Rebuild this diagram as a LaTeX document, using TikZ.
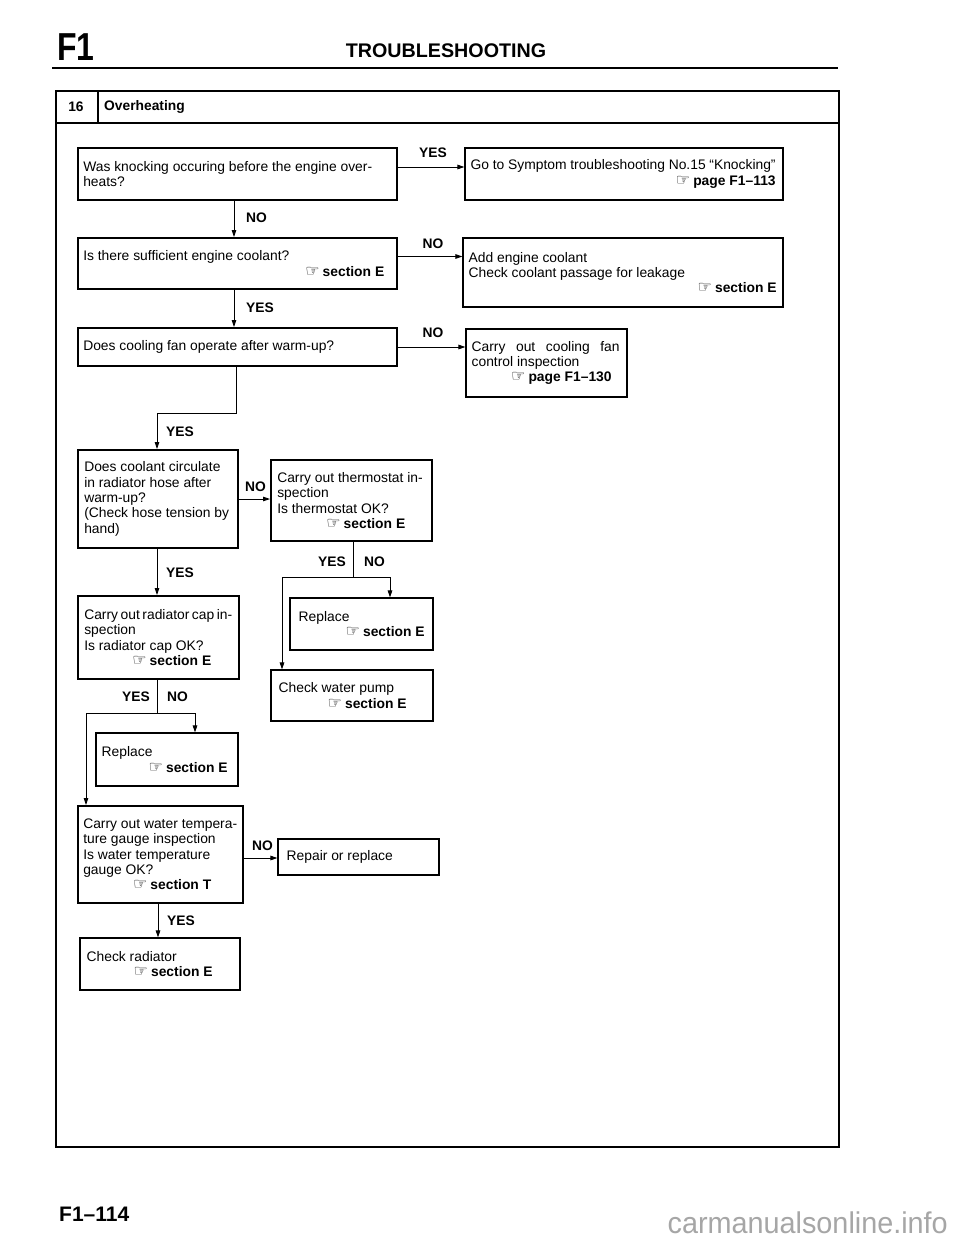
\documentclass[tikz,border=0pt]{standalone}
\usepackage{fontspec}
\setmainfont{Liberation Sans}
\newfontfamily\dejavu{DejaVu Sans}
\usetikzlibrary{arrows.meta,fit}
\newcommand\hnd{{\dejavu\bfseries\fontsize{16}{16}\selectfont ☞}}
\newcommand\sref[2]{\makebox[#1][r]{\hnd\hspace{3pt}\textbf{#2}}}
\newcommand\mkbox[6]{\coordinate (#1-nw) at (#3,#4); \coordinate (#1-se) at (#5,#6); \node[#2, fit=(#1-nw)(#1-se)] (#1) {};}
\begin{document}
\begin{tikzpicture}[x=1pt,y=-1pt,
  qbox/.style={draw, line width=1.9pt, inner sep=0pt},
  rbox/.style={draw, line width=1.1pt, inner sep=0pt},
  txt/.style={anchor=west, align=left, inner sep=0pt, font=\fontsize{13.85}{15.3}\selectfont},
  lbl/.style={inner sep=0pt, font=\fontsize{13.8}{15}\selectfont\bfseries},
  conn/.style={line width=0.9pt},
  arr/.style={conn, -{Triangle[length=7pt,width=4.5pt]}},
]
\useasboundingbox (0,0) rectangle (960,1242);
\fill[white] (0,0) rectangle (960,1242);

% page header and frame
\node[anchor=base west, inner sep=0pt, font=\fontsize{39}{39}\selectfont\bfseries, xscale=0.82] (f1) at (57,60) {F1};
\node[anchor=base, inner sep=0pt, font=\fontsize{19.7}{20}\selectfont\bfseries] (title) at (446,57) {TROUBLESHOOTING};
\draw[line width=1.8pt] (52,68) -- (838,68);
\draw[line width=1.5pt] (56,91) rectangle (839,1147);
\draw[line width=1.5pt] (56,123) -- (839,123);
\draw[line width=1.5pt] (98,91) -- (98,123);
\node[lbl] (num) at (76,107) {16};
\node[lbl, anchor=west] (hdr) at (104,107) {Overheating};
\node[anchor=base west, inner sep=0pt, font=\fontsize{21}{21}\selectfont\bfseries] (pg) at (59,1221) {F1–114};
\node[anchor=base east, inner sep=0pt, text=black!35, font=\fontsize{30}{30}\selectfont, xscale=0.96] (wm) at (948,1233) {carmanualsonline.info};

% boxes
\mkbox{b1}{qbox}{78}{148}{397}{200}
\mkbox{g1}{rbox}{465}{148}{783}{200}
\mkbox{b2}{qbox}{78}{238}{397}{289}
\mkbox{a2}{rbox}{463}{238}{783}{307}
\mkbox{b3}{qbox}{78}{328}{397}{366}
\mkbox{f3}{rbox}{466}{329}{627}{397}
\mkbox{b4}{qbox}{78}{450}{238}{548}
\mkbox{t5}{qbox}{271}{460}{432}{541}
\mkbox{r5}{rbox}{290}{598}{433}{650}
\mkbox{w5}{rbox}{271}{670}{433}{721}
\mkbox{b6}{qbox}{78}{596}{239}{679}
\mkbox{r6}{rbox}{96}{733}{238}{786}
\mkbox{b7}{qbox}{78}{806}{243}{903}
\mkbox{p7}{rbox}{278}{839}{439}{875}
\mkbox{b8}{rbox}{80}{938}{240}{990}

% texts
\node[txt] (b1t) at ([xshift=6pt]b1.west) {Was knocking occuring before the engine over-\\heats?};
\node[txt] (g1t) at ([xshift=6pt]g1.west) {\makebox[305pt][s]{Go to Symptom troubleshooting No.15 “Knocking”}\\\sref{305pt}{page F1–113}};
\node[txt] (b2t) at ([xshift=6pt]b2.west) {Is there sufficient engine coolant?\\\sref{301pt}{section E}};
\node[txt] (a2t) at ([xshift=6pt]a2.west) {Add engine coolant\\Check coolant passage for leakage\\\sref{308pt}{section E}};
\node[txt] (b3t) at ([xshift=6pt]b3.west) {Does cooling fan operate after warm-up?};
\node[txt] (f3t) at ([xshift=6pt]f3.west) {\makebox[148pt][s]{Carry out cooling fan}\\control inspection\\\sref{140pt}{page F1–130}};
\node[txt] (b4t) at ([xshift=7pt]b4.west) {Does coolant circulate\\in radiator hose after\\warm-up?\\(Check hose tension by\\hand)};
\node[txt] (t5t) at ([xshift=7pt]t5.west) {Carry out thermostat in-\\spection\\Is thermostat OK?\\\sref{128pt}{section E}};
\node[txt] (r5t) at ([xshift=9pt]r5.west) {Replace\\\sref{126pt}{section E}};
\node[txt] (w5t) at ([xshift=8pt]w5.west) {Check water pump\\\sref{128pt}{section E}};
\node[txt] (b6t) at ([xshift=7pt]b6.west) {\makebox[145pt][s]{Carry out radiator cap in-}\\spection\\Is radiator cap OK?\\\sref{127pt}{section E}};
\node[txt] (r6t) at ([xshift=6pt]r6.west) {Replace\\\sref{126pt}{section E}};
\node[txt] (b7t) at ([xshift=6pt]b7.west) {Carry out water tempera-\\ture gauge inspection\\Is water temperature\\gauge OK?\\\sref{128pt}{section T}};
\node[txt] (p7t) at ([xshift=9pt]p7.west) {Repair or replace};
\node[txt] (b8t) at ([xshift=7pt]b8.west) {Check radiator\\\sref{126pt}{section E}};

% connectors
\draw[arr] ([yshift=7pt]b1.east) -- ([yshift=7pt]b1.east -| g1.west);
\draw[arr] ([xshift=-3.5pt]b1.south) -- ([xshift=-3.5pt]b1.south |- b2.north);
\draw[arr] ([yshift=7pt]b2.east) -- ([yshift=7pt]b2.east -| a2.west);
\draw[arr] ([xshift=-3.5pt]b2.south) -- ([xshift=-3.5pt]b2.south |- b3.north);
\draw[arr] (b3.east) -- (b3.east -| f3.west);
\draw[arr] ([xshift=-1.5pt]b3.south) -- ++(0,46) -| ([xshift=-1pt]b4.north);
\draw[arr] (b4.east) -- (b4.east -| t5.west);
\draw[arr] ([xshift=-1pt]b4.south) -- ([xshift=-1pt]b4.south |- b6.north);
\draw[conn] ([xshift=1.5pt]t5.south) -- ++(0,35) coordinate (t5s);
\draw[arr] (t5s) -| ([xshift=28.5pt]r5.north);
\draw[arr] (t5s) -| ([xshift=-70pt]w5.north);
\draw[conn] ([xshift=-1.5pt]b6.south) -- ++(0,33) coordinate (b6s);
\draw[arr] (b6s) -| ([xshift=28pt]r6.north);
\draw[arr] (b6s) -| ([xshift=-74.5pt]b7.north);
\draw[arr] ([yshift=-3.5pt]b7.east) -- ([yshift=-3.5pt]b7.east -| p7.west);
\draw[arr] ([xshift=-2.5pt]b7.south) -- ([xshift=-2.5pt]b7.south |- b8.north);

% labels
\node[lbl] (l1) at (433,153) {YES};
\node[lbl, anchor=west] (l2) at (246,218) {NO};
\node[lbl] (l3) at (433,244) {NO};
\node[lbl, anchor=west] (l4) at (246,308) {YES};
\node[lbl] (l5) at (433,333) {NO};
\node[lbl, anchor=west] (l6) at (166,432) {YES};
\node[lbl, anchor=west] (l7) at (245,487) {NO};
\node[lbl, anchor=east] (l8) at (346,562) {YES};
\node[lbl, anchor=west] (l9) at (364,562) {NO};
\node[lbl, anchor=west] (l10) at (166,573) {YES};
\node[lbl, anchor=east] (l11) at (150,697) {YES};
\node[lbl, anchor=west] (l12) at (167,697) {NO};
\node[lbl, anchor=west] (l13) at (252,846) {NO};
\node[lbl, anchor=west] (l14) at (167,921) {YES};
\end{tikzpicture}
\end{document}
